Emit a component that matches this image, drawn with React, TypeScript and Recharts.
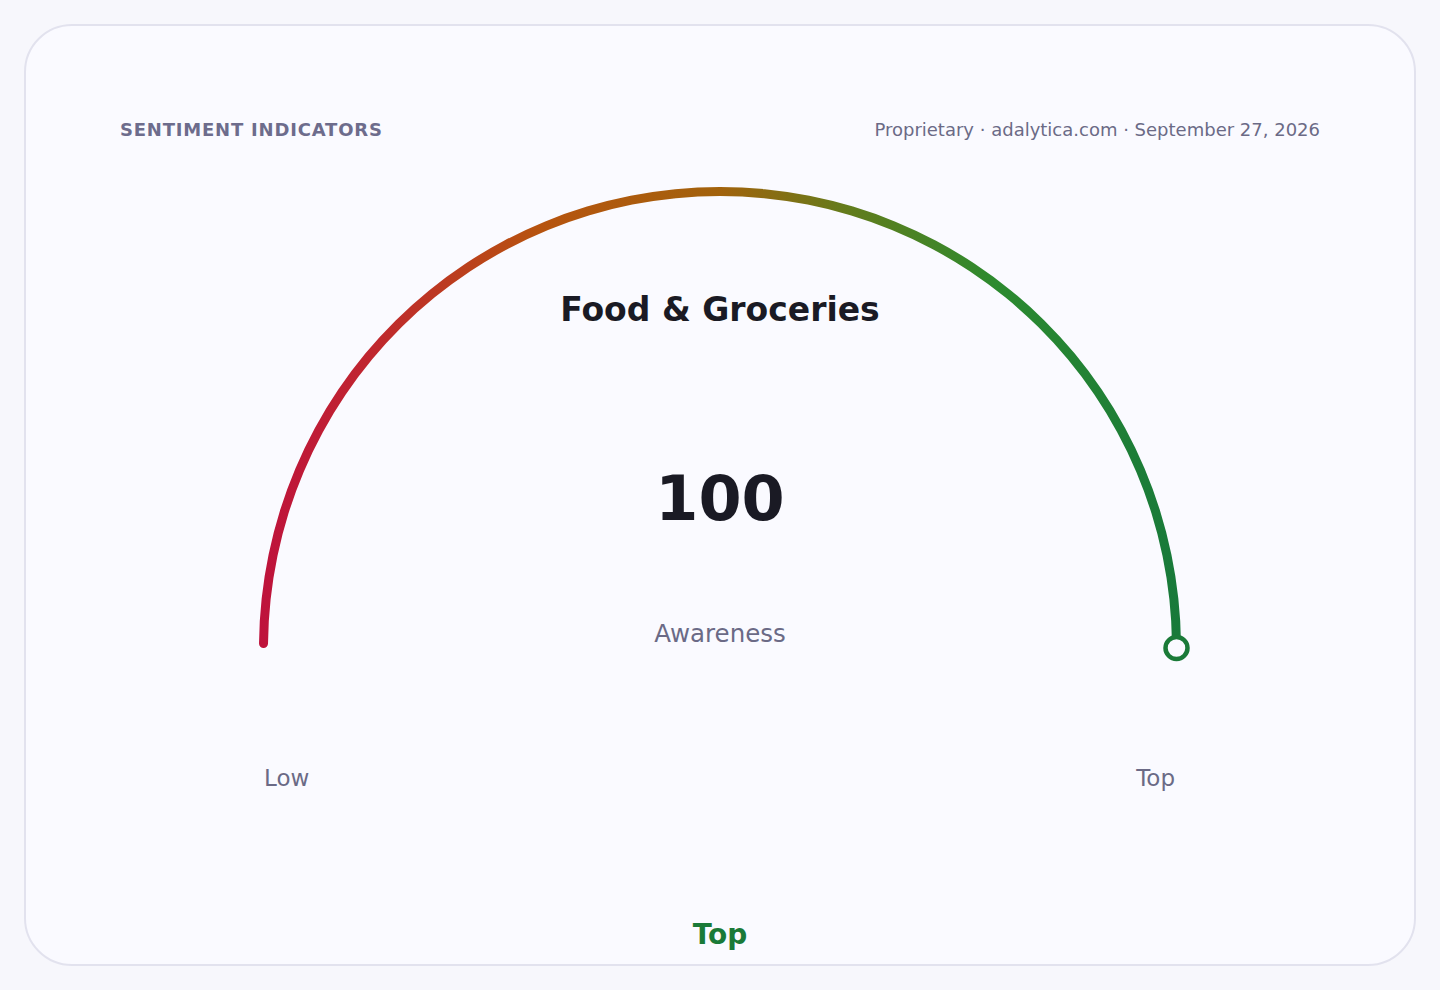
import React from 'react'
import { PieChart, Pie, Cell } from 'recharts'

// gauge data
const SCORE_MAX = 100
const scoreValues = [100]
const scoreLabels = ['Awareness']
const scaleEnds = ['Low', 'Top']
const categoryName = 'Food & Groceries'
const bandLabel = 'Top'

const gaugeData = [
  { name: scoreLabels[0], value: scoreValues[0] },
  { name: 'rest', value: SCORE_MAX - scoreValues[0] },
]

const FONT = '"DejaVu Sans", Verdana, sans-serif'
const MUTED = '#6b6a86'
const GREEN = '#1a7a38'

const renderMarker = (props: any) => {
  if (props.index !== 0) return null
  const { cx, cy, innerRadius, outerRadius, endAngle } = props
  const r = (innerRadius + outerRadius) / 2
  const rad = (-endAngle * Math.PI) / 180
  return (
    <circle
      cx={cx + r * Math.cos(rad)}
      cy={cy + r * Math.sin(rad)}
      r={11}
      fill="#fafaff"
      stroke={GREEN}
      strokeWidth={4.5}
    />
  )
}

const abs = (extra: React.CSSProperties): React.CSSProperties => ({
  position: 'absolute',
  fontFamily: FONT,
  whiteSpace: 'nowrap',
  lineHeight: 1,
  ...extra,
})

export default function App() {
  return (
    <div style={{ position: 'absolute', left: 0, top: 0, width: 1440, height: 990, background: '#f7f7fc', overflow: 'hidden' }}>
      <div
        style={{
          position: 'absolute',
          left: 24,
          top: 24,
          width: 1392,
          height: 942,
          boxSizing: 'border-box',
          border: '2px solid #e2e2ee',
          borderRadius: 48,
          background: '#fafaff',
        }}
      />
      <div style={{ position: 'absolute', left: 0, top: 0 }}>
        <PieChart width={1440} height={990} margin={{ top: 0, right: 0, bottom: 0, left: 0 }}>
          <defs>
            <linearGradient id="gaugeGradient" x1="0" y1="0" x2="1" y2="0">
              <stop offset="0%" stopColor="#be123c" />
              <stop offset="12%" stopColor="#c0262f" />
              <stop offset="30%" stopColor="#b7530f" />
              <stop offset="50%" stopColor="#a2620c" />
              <stop offset="64%" stopColor="#627c1c" />
              <stop offset="80%" stopColor="#2c8a2f" />
              <stop offset="100%" stopColor="#18793a" />
            </linearGradient>
          </defs>
          <Pie
            data={gaugeData}
            dataKey="value"
            cx={720}
            cy={648}
            startAngle={180}
            endAngle={0}
            innerRadius={452}
            outerRadius={461}
            cornerRadius={4.5}
            paddingAngle={0}
            stroke="none"
            label={renderMarker}
            labelLine={false}
            isAnimationActive={false}
          >
            {gaugeData.map((d, i) => (
              <Cell key={d.name} fill={i === 0 ? 'url(#gaugeGradient)' : 'transparent'} />
            ))}
          </Pie>
        </PieChart>
      </div>

      <div style={abs({ left: 120, top: 121, fontSize: 18, fontWeight: 700, color: '#6d6c8c', letterSpacing: 0.8 })}>
        SENTIMENT INDICATORS
      </div>
      <div style={abs({ right: 120, top: 121, fontSize: 18, color: MUTED })}>
        Proprietary · adalytica.com · September 27, 2026
      </div>

      <div style={abs({ left: 0, width: 1440, textAlign: 'center', top: 293, fontSize: 33, fontWeight: 700, color: '#1a1a24' })}>
        {categoryName}
      </div>
      <div style={abs({ left: 0, width: 1440, textAlign: 'center', top: 468, fontSize: 62, fontWeight: 700, color: '#1a1a24' })}>
        {scoreValues[0]}
      </div>
      <div style={abs({ left: 0, width: 1440, textAlign: 'center', top: 622, fontSize: 24.5, color: MUTED })}>
        {scoreLabels[0]}
      </div>

      <div style={abs({ left: 264, top: 767, fontSize: 23, color: MUTED })}>{scaleEnds[0]}</div>
      <div style={abs({ right: 1440 - 1175, top: 767, fontSize: 23, color: MUTED })}>{scaleEnds[1]}</div>

      <div style={abs({ left: 0, width: 1440, textAlign: 'center', top: 921, fontSize: 28, fontWeight: 700, color: GREEN })}>
        {bandLabel}
      </div>
    </div>
  )
}
